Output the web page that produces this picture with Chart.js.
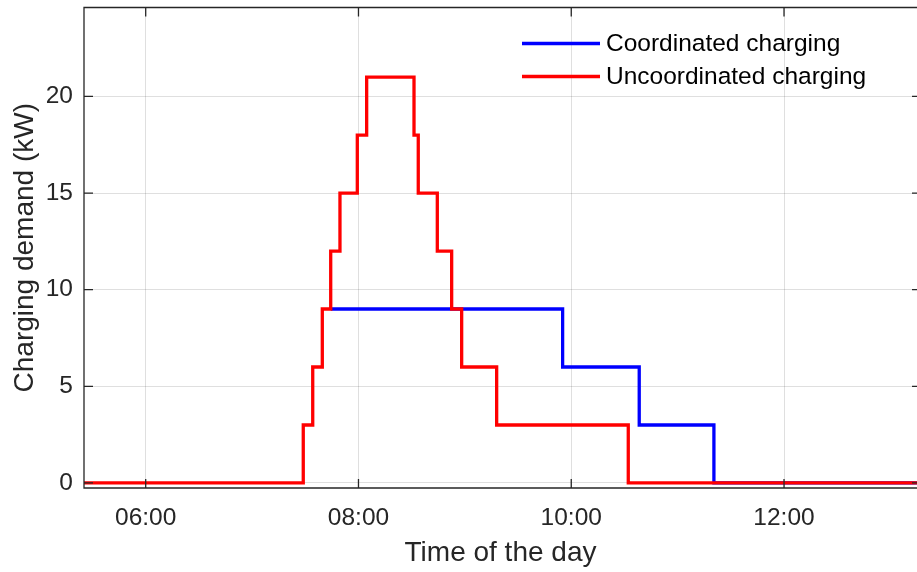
<!DOCTYPE html>
<html>
<head>
<meta charset="utf-8">
<script src="https://cdn.jsdelivr.net/npm/chart.js@4"></script>
<style>
html,body{margin:0;padding:0;background:#fff;}
#wrap{width:917px;height:572px;position:relative;}
</style>
</head>
<body>
<div id="wrap"><canvas id="c" width="917" height="572"></canvas></div>
<script>
// Data (time in hours of the day, demand in kW)
const seriesNames = ["Coordinated charging", "Uncoordinated charging"];
const coordTimes  = [7.739, 9.919, 10.639, 11.341, 13.25];
const coordValues = [9,     6,     3,      0,      0];
const uncoordTimes  = [5.42, 7.481, 7.570, 7.660, 7.739, 7.826, 7.989, 8.077, 8.522, 8.562, 8.741, 8.876, 8.970, 9.299, 10.536, 13.25];
const uncoordValues = [0,    3,     6,     9,     12,    15,    18,    21,    18,    15,    12,    9,     6,     3,     0,      0];
const xTicks = [6, 8, 10, 12];
const yTicks = [0, 5, 10, 15, 20];
const xRange = [5.42, 13.25];
const yRange = [-0.26, 24.6];

const FONT = "'Liberation Sans', Arial, Helvetica, sans-serif";
const AX = '#262626';

function pts(t, v){ return t.map((x,i)=>({x:x, y:v[i]})); }
function fmtHour(h){ const hh = Math.floor(h); return (hh<10?'0':'')+hh+':00'; }

const boxPlugin = {
  id:'box',
  afterDatasetsDraw(chart){
    const {ctx, chartArea:a, scales:{x,y}} = chart;
    ctx.save();
    ctx.strokeStyle = AX;
    ctx.lineWidth = 1.3;
    ctx.beginPath();
    ctx.moveTo(a.right + 4, a.top);
    ctx.lineTo(a.left, a.top);
    ctx.lineTo(a.left, a.bottom);
    ctx.lineTo(a.right + 4, a.bottom);
    ctx.stroke();
    const L = 9;
    ctx.beginPath();
    xTicks.forEach(v=>{
      const px = x.getPixelForValue(v);
      ctx.moveTo(px, a.bottom); ctx.lineTo(px, a.bottom - L);
      ctx.moveTo(px, a.top); ctx.lineTo(px, a.top + L);
    });
    yTicks.forEach(v=>{
      const py = y.getPixelForValue(v);
      ctx.moveTo(a.left, py); ctx.lineTo(a.left + L, py);
      ctx.moveTo(a.right + 4, py); ctx.lineTo(a.right + 4 - L, py);
    });
    ctx.stroke();
    ctx.restore();
  },
  afterDraw(chart){
    const {ctx} = chart;
    ctx.save();
    ctx.font = '24.5px ' + FONT;
    ctx.textBaseline = 'middle';
    ctx.textAlign = 'left';
    const items = [
      {label: chart.data.datasets[1].label, color: chart.data.datasets[1].borderColor, y: 43.5},
      {label: chart.data.datasets[0].label, color: chart.data.datasets[0].borderColor, y: 76.5}
    ];
    items.forEach(it=>{
      ctx.strokeStyle = it.color;
      ctx.lineWidth = 3.3;
      ctx.beginPath();
      ctx.moveTo(522, it.y); ctx.lineTo(600, it.y);
      ctx.stroke();
      ctx.fillStyle = '#000';
      ctx.fillText(it.label, 606, it.y + 1);
    });
    ctx.restore();
  }
};

new Chart(document.getElementById('c'), {
  type:'line',
  data:{
    datasets:[
      {label: seriesNames[1], data: pts(uncoordTimes, uncoordValues), borderColor:'#ff0000', borderWidth:3.3, stepped:true, pointRadius:0, fill:false, order:0},
      {label: seriesNames[0], data: pts(coordTimes, coordValues), borderColor:'#0000ff', borderWidth:3.3, stepped:true, pointRadius:0, fill:false, order:1}
    ]
  },
  options:{
    responsive:false,
    animation:false,
    layout:{padding:{top:7.5, right:0, left:0, bottom:0}},
    plugins:{legend:{display:false}, tooltip:{enabled:false}},
    scales:{
      x:{
        type:'linear', min:xRange[0], max:xRange[1],
        afterBuildTicks(s){ s.ticks = xTicks.map(v=>({value:v})); },
        afterFit(s){ s.height = 84; s.paddingLeft = 0; s.paddingRight = 0; },
        grid:{color:'rgba(38,38,38,0.15)', lineWidth:1, drawTicks:false},
        border:{display:false},
        ticks:{color:AX, font:{family:FONT, size:24.5}, padding:16, maxRotation:0, callback:(v)=>fmtHour(v)},
        title:{display:true, text:'Time of the day', color:AX, font:{family:FONT, size:28}, padding:{top:0, bottom:2}}
      },
      y:{
        type:'linear', min:yRange[0], max:yRange[1],
        afterBuildTicks(s){ s.ticks = yTicks.map(v=>({value:v})); },
        afterFit(s){ s.width = 84; s.paddingTop = 0; s.paddingBottom = 0; },
        grid:{color:'rgba(38,38,38,0.15)', lineWidth:1, drawTicks:false},
        border:{display:false},
        ticks:{color:AX, font:{family:FONT, size:24.5}, padding:11, callback:(v)=>String(v)},
        title:{display:true, text:'Charging demand (kW)', color:AX, font:{family:FONT, size:28}, padding:{top:8, bottom:0}}
      }
    }
  },
  plugins:[boxPlugin]
});
</script>
</body>
</html>
